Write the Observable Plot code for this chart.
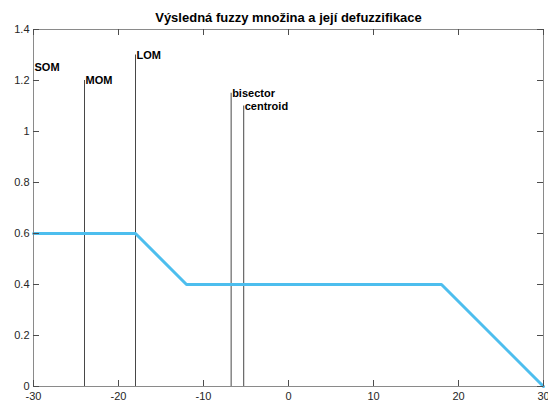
<!DOCTYPE html>
<html>
<head>
<meta charset="utf-8">
<script src="https://cdn.jsdelivr.net/npm/d3@7"></script>
<script src="https://cdn.jsdelivr.net/npm/@observablehq/plot@0.6"></script>
<style>
  html, body { margin: 0; padding: 0; background: #fff; }
  svg { font-family: "Liberation Sans", Arial, Helvetica, sans-serif; }
</style>
</head>
<body>
<div id="chart"></div>
<script>
const title = "Výsledná fuzzy množina a její defuzzifikace";
// output fuzzy set (breakpoints)
const setX = [-30, -18, -12, 18, 30];
const setMu = [0.6, 0.6, 0.4, 0.4, 0];
// defuzzification results
const methodNames = ["SOM", "MOM", "LOM", "bisector", "centroid"];
const methodX = [-30, -24, -18, -6.75, -5.27];
const methodTop = [1.25, 1.2, 1.3, 1.15, 1.1];
const xTicks = [-30, -20, -10, 0, 10, 20, 30];
const yTicks = [0, 0.2, 0.4, 0.6, 0.8, 1, 1.2, 1.4];

const setData = setX.map((x, i) => ({x, mu: setMu[i]}));
const methods = methodNames.map((name, i) => ({name, x: methodX[i], top: methodTop[i]}));

const W = 548, H = 406, mL = 33, mR = 5, mT = 29, mB = 20, tick = 6;
const xDom = [-30, 30], yDom = [0, 1.4];
const plotW = W - mL - mR, plotH = H - mT - mB;
// inward tick lengths expressed through the scales (pixels -> data units)
const tLenY = tick / plotH * (yDom[1] - yDom[0]);
const tLenX = tick / plotW * (xDom[1] - xDom[0]);
const axisColor = "#8a8a8a";
const tickColor = "#4d4d4d";

const chart = Plot.plot({
  width: W,
  height: H,
  marginLeft: mL,
  marginRight: mR,
  marginTop: mT,
  marginBottom: mB,
  style: {fontFamily: '"Liberation Sans", Arial, sans-serif', fontSize: "11px", color: "#262626", background: "#fff"},
  x: {domain: xDom, ticks: xTicks, label: null},
  y: {domain: yDom, ticks: yTicks, label: null},
  marks: [
    Plot.ruleX(methods, {x: "x", y1: 0, y2: "top", stroke: "#333", strokeWidth: 0.9}),
    Plot.line(setData, {x: "x", y: "mu", stroke: "#4DBEEE", strokeWidth: 3}),
    Plot.text(methods, {x: "x", y: "top", text: "name", textAnchor: "start", lineAnchor: "middle", fontWeight: "bold", fontSize: 11, fill: "#000", dx: 1}),
    Plot.frame({stroke: axisColor, strokeWidth: 1}),
    // inward ticks on all four sides
    Plot.ruleX(xTicks, {x: d => d, y1: yDom[0], y2: yDom[0] + tLenY, stroke: tickColor}),
    Plot.ruleX(xTicks, {x: d => d, y1: yDom[1], y2: yDom[1] - tLenY, stroke: tickColor}),
    Plot.ruleY(yTicks, {y: d => d, x1: xDom[0], x2: xDom[0] + tLenX, stroke: tickColor}),
    Plot.ruleY(yTicks, {y: d => d, x1: xDom[1], x2: xDom[1] - tLenX, stroke: tickColor}),
    Plot.axisX({anchor: "bottom", ticks: xTicks, tickSize: 0, tickPadding: 6, tickFormat: d => String(d), fill: "#262626", label: null}),
    Plot.axisY({anchor: "left", ticks: yTicks, tickSize: 0, tickPadding: 4, tickFormat: d => String(d), fill: "#262626", label: null}),
    Plot.text([title], {frameAnchor: "top", dy: -12, lineAnchor: "middle", fontWeight: "bold", fontSize: 13, fill: "#000"})
  ]
});
document.getElementById("chart").appendChild(chart);
</script>
</body>
</html>
